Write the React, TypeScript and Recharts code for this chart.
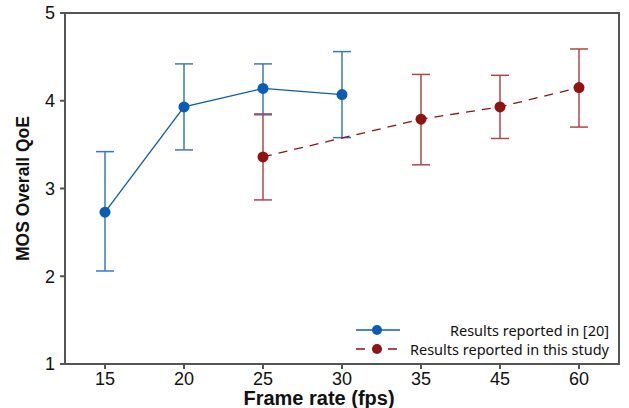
import React from "react";
import {
  LineChart,
  Line,
  XAxis,
  YAxis,
  ErrorBar,
} from "recharts";

// Frame rates (categorical x axis)
const frameRates = ["15", "20", "25", "30", "35", "45", "60"];

// Results reported in [20]
const refMean = [2.73, 3.93, 4.14, 4.07, null, null, null];
const refLow = [2.06, 3.44, 3.84, 3.58, null, null, null];
const refHigh = [3.42, 4.42, 4.42, 4.56, null, null, null];

// Results reported in this study
const studyMean = [null, null, 3.36, null, 3.79, 3.93, 4.15];
const studyLow = [null, null, 2.87, null, 3.27, 3.57, 3.7];
const studyHigh = [null, null, 3.85, null, 4.3, 4.29, 4.59];

const yTicks = [1, 2, 3, 4, 5];

const BLUE = "#0b5cb5";
const BLUE_ERR = "#3a78c4";
const RED = "#8e1414";
const RED_ERR = "#b0474a";
const AXIS = "#555555";

const errPair = (m: number | null, lo: number | null, hi: number | null) =>
  m == null || lo == null || hi == null ? null : [m - lo, hi - m];

const data = frameRates.map((fps, i) => ({
  fps,
  ref: refMean[i],
  refErr: errPair(refMean[i], refLow[i], refHigh[i]),
  study: studyMean[i],
  studyErr: errPair(studyMean[i], studyLow[i], studyHigh[i]),
}));

const legendItems = [
  { label: "Results reported in [20]", color: BLUE, dash: undefined },
  { label: "Results reported in this study", color: RED, dash: "9 7" },
];

const ChartLegend = () => (
  <div
    style={{
      position: "absolute",
      left: 356,
      top: 320,
      width: 253,
      fontFamily: "'Noto Sans', sans-serif",
      fontSize: 14.5,
      color: "#111",
    }}
  >
    {legendItems.map((it) => (
      <div key={it.label} style={{ display: "flex", alignItems: "center", height: 19 }}>
        <svg width={44} height={12} style={{ flex: "none" }}>
          <line x1={0} y1={6} x2={44} y2={6} stroke={it.color} strokeWidth={1.3} strokeDasharray={it.dash} />
          <circle cx={21} cy={6} r={5} fill={it.color} />
        </svg>
        <span style={{ flex: 1, textAlign: "right", whiteSpace: "nowrap" }}>{it.label}</span>
      </div>
    ))}
  </div>
);

export default function App() {
  return (
    <div style={{ position: "absolute", left: 0, top: 0, width: 629, height: 408, background: "#fff" }}>
      <LineChart
        width={629}
        height={408}
        data={data}
        margin={{ top: 13, right: 10, left: 0, bottom: 0 }}
        style={{ fontFamily: "Arial, 'Liberation Sans', sans-serif" }}
      >
        <XAxis
          dataKey="fps"
          padding={{ left: 40, right: 40 }}
          height={44}
          stroke={AXIS}
          strokeWidth={2}
          tickSize={5}
          tickMargin={3}
          tick={{ fill: "#111", fontSize: 18 }}
          label={{
            value: "Frame rate (fps)",
            position: "insideBottom",
            offset: 3,
            dx: -23,
            style: { fill: "#111", fontSize: 20, fontWeight: 700 },
          }}
        />
        <YAxis
          domain={[1, 5]}
          ticks={yTicks}
          width={65}
          stroke={AXIS}
          strokeWidth={2}
          tickSize={5}
          tickMargin={5}
          tick={{ fill: "#111", fontSize: 18 }}
          label={{
            value: "MOS Overall QoE",
            angle: -90,
            position: "insideLeft",
            offset: 23,
            style: { fill: "#111", fontSize: 17.5, fontWeight: 700, textAnchor: "middle" },
          }}
        />
        <Line
          dataKey="ref"
          stroke={BLUE}
          strokeWidth={1.3}
          dot={{ r: 5.5, fill: BLUE, stroke: BLUE, strokeWidth: 0 }}
          activeDot={false}
          isAnimationActive={false}
        >
          <ErrorBar dataKey="refErr" direction="y" width={9} stroke={BLUE_ERR} strokeWidth={1.5} />
        </Line>
        <Line
          dataKey="study"
          stroke={RED}
          strokeWidth={1.3}
          strokeDasharray="9 7"
          connectNulls
          dot={{ r: 5.5, fill: RED, stroke: RED, strokeWidth: 0 }}
          activeDot={false}
          isAnimationActive={false}
        >
          <ErrorBar dataKey="studyErr" direction="y" width={9} stroke={RED_ERR} strokeWidth={1.5} />
        </Line>
      </LineChart>
      {/* top and right edges of the plot frame */}
      <div
        style={{
          position: "absolute",
          left: 65,
          top: 12,
          width: 553,
          height: 351,
          borderTop: `2px solid ${AXIS}`,
          borderRight: `2px solid ${AXIS}`,
          pointerEvents: "none",
        }}
      />
      <ChartLegend />
    </div>
  );
}
